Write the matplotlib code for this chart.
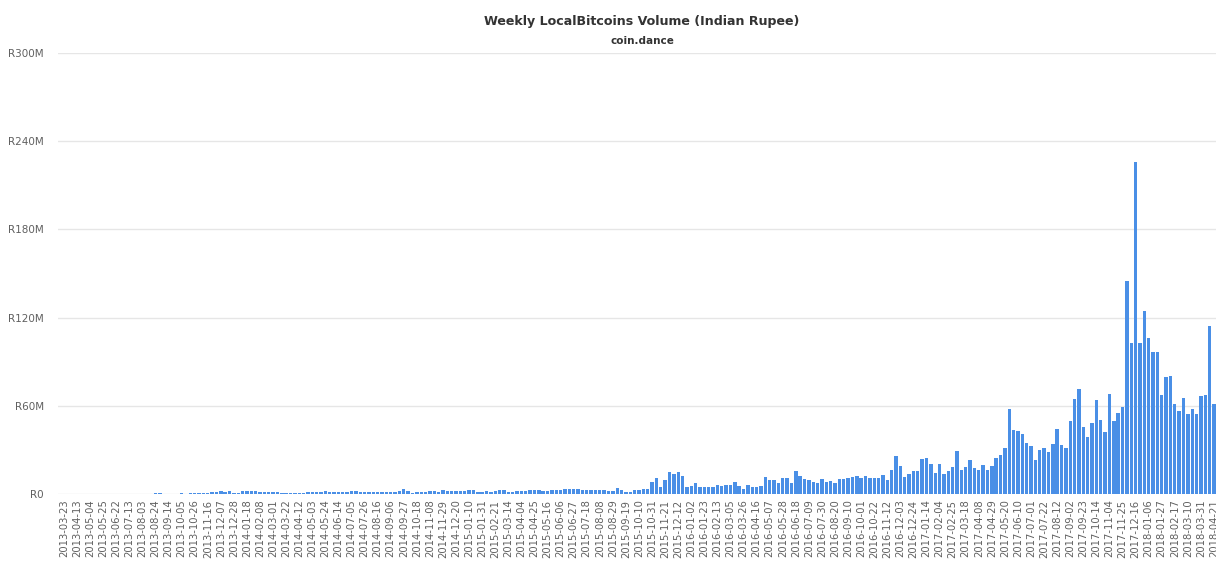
import matplotlib
matplotlib.use("Agg")
import matplotlib.pyplot as plt
import pandas as pd
import numpy as np

# categories (weekly dates; one week missing in June 2013)
dates_part1 = pd.date_range("2013-03-23", "2013-05-25", freq="7D")
dates_part2 = pd.to_datetime(["2013-06-08", "2013-06-15"])
dates_part3 = pd.date_range("2013-06-22", "2018-04-21", freq="7D")
weeks = [d.strftime("%Y-%m-%d") for d in list(dates_part1) + list(dates_part2) + list(dates_part3)]

# weekly volume in millions of INR
vol_2013 = [0.1, 0.1, 0.1, 0.1, 0.1, 0.1, 0.1, 0.1, 0.1, 0.1,
            0.1, 0.1, 0.2, 0.1, 0.2, 0.2, 0.1, 0.2, 0.2, 0.3,
            0.3, 0.4, 0.6, 0.3, 0.3, 0.2, 0.3, 0.4, 0.3, 0.4,
            0.4, 0.5, 0.8, 1.0, 1.3, 1.6, 1.8, 1.4, 2.0, 0.5,
            0.6]
vol_2014 = [1.8, 1.8, 2.0, 2.2, 1.7, 1.6, 1.4, 1.3, 1.5, 1.0,
            0.9, 0.8, 0.9, 0.8, 1.0, 1.1, 1.3, 1.2, 1.6, 1.9,
            1.2, 1.1, 1.3, 1.2, 1.3, 2.1, 2.0, 1.5, 1.3, 1.4,
            1.3, 1.2, 1.4, 1.3, 1.2, 1.5, 1.9, 3.2, 2.0, 0.8,
            1.3, 1.5, 1.6, 1.8, 1.9, 1.7, 2.9, 1.9, 1.8, 1.8,
            2.3, 2.0]
vol_2015 = [2.6, 2.5, 1.6, 1.5, 1.8, 1.3, 1.9, 2.4, 3.0, 1.7,
            1.6, 2.1, 2.0, 1.8, 2.9, 2.5, 2.6, 2.3, 2.0, 3.0,
            2.5, 2.7, 3.5, 3.3, 3.5, 3.2, 2.7, 2.8, 2.6, 2.9,
            2.5, 2.5, 2.3, 2.0, 4.1, 2.5, 1.4, 1.6, 2.5, 2.9,
            3.2, 3.2, 8.2, 10.7, 4.8, 9.7, 15.2, 13.6, 15.2, 12.5,
            5.0, 5.7, 7.5]
vol_2016 = [4.8, 5.0, 5.0, 4.8, 6.1, 5.4, 6.3, 6.3, 8.4, 5.7,
            3.2, 5.9, 4.5, 4.5, 5.4, 11.8, 9.5, 9.5, 7.7, 10.7,
            10.7, 7.7, 15.4, 12.5, 10.2, 9.3, 7.9, 7.5, 10.0, 8.4,
            8.8, 7.7, 10.2, 10.2, 11.2, 11.6, 12.0, 10.9, 12.0, 10.7,
            10.7, 11.1, 13.0, 9.3, 16.1, 26.1, 19.3, 11.8, 13.4, 15.5,
            15.5, 23.9]
vol_2017 = [24.3, 20.7, 14.5, 20.5, 13.9, 15.7, 18.6, 29.5, 16.1, 18.2,
            23.2, 17.7, 16.4, 19.5, 16.1, 19.1, 24.8, 26.4, 31.1, 57.7,
            43.6, 43.1, 40.6, 34.4, 32.9, 23.2, 29.7, 31.5, 28.6, 34.0,
            44.3, 33.5, 31.1, 49.5, 64.6, 71.1, 45.9, 38.9, 48.4, 64.2,
            50.2, 41.9, 68.0, 50.0, 55.2, 59.4, 145.2, 102.9, 225.6, 102.9,
            124.3, 106.3]
vol_2018 = [96.8, 96.8, 67.1, 79.9, 80.6, 61.0, 56.7, 65.5, 54.7, 57.9,
            54.7, 66.4, 67.5, 114.4, 61.5]
volume = vol_2013 + vol_2014 + vol_2015 + vol_2016 + vol_2017 + vol_2018

ytick_vals = [0, 60, 120, 180, 240, 300]
ytick_labels = ["R0", "R60M", "R120M", "R180M", "R240M", "R300M"]

title = "Weekly LocalBitcoins Volume (Indian Rupee)"
subtitle = "coin.dance"

n = min(len(weeks), len(volume))
weeks = weeks[:n]
volume = volume[:n]

fig = plt.figure(figsize=(12.16, 5.63), dpi=100)
ax = fig.add_axes([58 / 1216, (563 - 494) / 563, 1158 / 1216, 441 / 563])

x = np.arange(n)
ax.bar(x, volume, width=0.78, color="#4a8fe6", zorder=3, linewidth=0)

ax.set_ylim(0, 300)
ax.set_xlim(-1.38, 264.46)
ax.set_yticks(ytick_vals)
ax.set_yticklabels(ytick_labels)
ax.yaxis.grid(True, color="#e6e6e6", linewidth=1, zorder=0)
ax.set_axisbelow(True)

ax.set_xticks(x[::3])
ax.set_xticklabels(weeks[::3], rotation=90, va="top", ha="center")

for s in ax.spines.values():
    s.set_visible(False)
ax.tick_params(axis="y", length=0, pad=10, labelsize=7.5, labelcolor="#606060")
ax.tick_params(axis="x", length=0, pad=4, labelsize=7.2, labelcolor="#606060")

fig.text(642 / 1216, 1 - 21 / 563, title, ha="center", va="center",
         fontsize=9.1, fontweight="bold", color="#333333")
fig.text(642 / 1216, 1 - 41 / 563, subtitle, ha="center", va="center",
         fontsize=7.5, fontweight="bold", color="#333333")

fig.savefig("out.png", dpi=100)
